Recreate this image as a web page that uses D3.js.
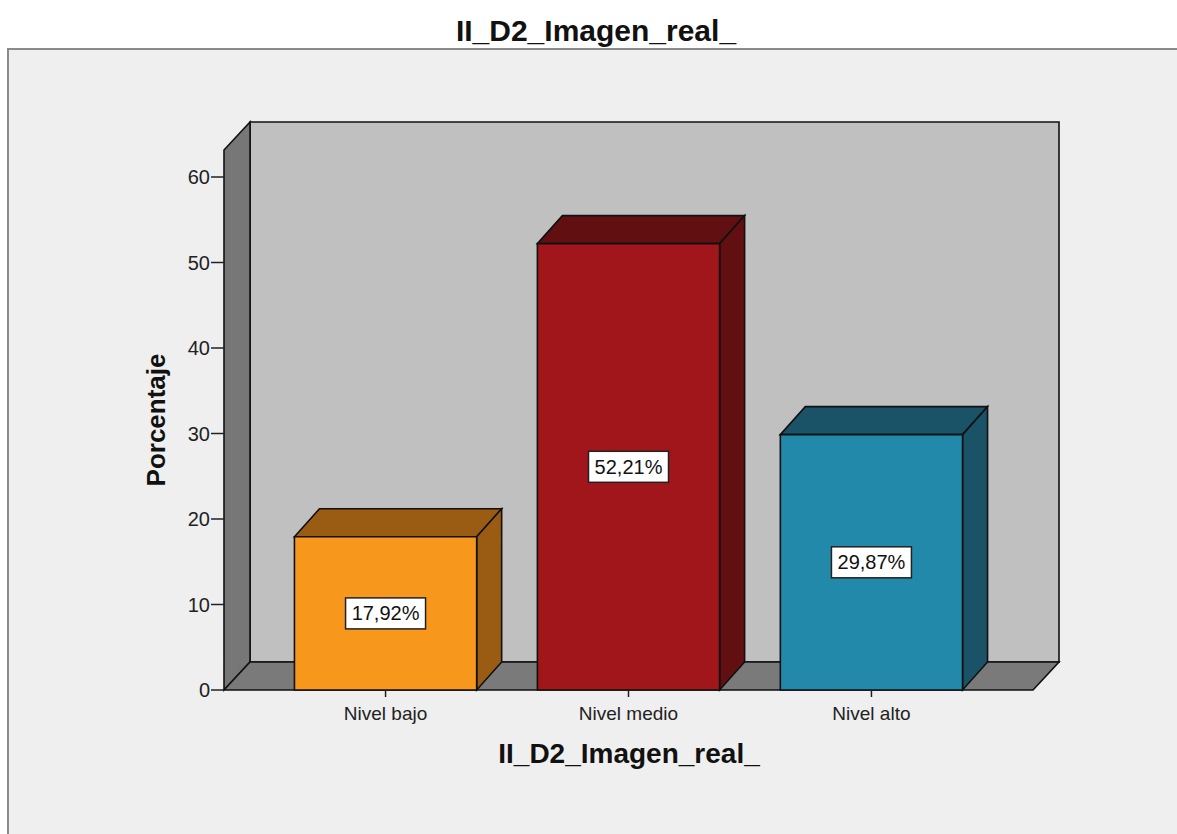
<!DOCTYPE html>
<html>
<head>
<meta charset="utf-8">
<script src="https://cdn.jsdelivr.net/npm/d3@7/dist/d3.min.js"></script>
<style>
  html, body { margin: 0; padding: 0; background: #ffffff; }
  svg { display: block; font-family: "Liberation Sans", Arial, sans-serif; }
</style>
</head>
<body>
<svg id="chart" width="1177" height="834"></svg>
<script>
// Distribution of II_D2_Imagen_real_ (percent of cases)
const categories = ["Nivel bajo", "Nivel medio", "Nivel alto"];
const percentages = [17.92, 52.21, 29.87];
const valueLabels = ["17,92%", "52,21%", "29,87%"];
const frontColors = ["#f7981d", "#a0161a", "#2389aa"];
const sideColors = ["#9a5b12", "#620f12", "#1a5368"];
const yTicks = [0, 10, 20, 30, 40, 50, 60];
const chartTitle = "II_D2_Imagen_real_";
const yTitle = "Porcentaje";

const svg = d3.select("#chart");

// outer panel
svg.append("rect")
  .attr("x", 8).attr("y", 49).attr("width", 1200).attr("height", 820)
  .attr("fill", "#efefef").attr("stroke", "#8a8a8a").attr("stroke-width", 2);

svg.append("text")
  .attr("x", 596).attr("y", 41)
  .attr("text-anchor", "middle")
  .attr("font-size", 30).attr("font-weight", "bold").attr("fill", "#111")
  .text(chartTitle);

// front plane of the 3D box
const plotLeft = 224, plotRight = 1033, plotBottom = 690;
const depthX = 26, depthY = -28;
const yMax = 63.16;

const y = d3.scaleLinear().domain([0, yMax]).range([plotBottom, plotBottom - yMax * 8.55]);
const x = d3.scaleBand().domain(categories).range([plotLeft, plotRight])
  .paddingInner(0.25).paddingOuter(0.29);

const yTop = y(yMax);

const g = svg.append("g");
const pts = a => a.map(p => p.join(",")).join(" ");
function poly(points, fill) {
  return g.append("polygon").attr("points", pts(points)).attr("fill", fill)
    .attr("stroke", "#111").attr("stroke-width", 1.6).attr("stroke-linejoin", "miter");
}

// back wall
poly([[plotLeft + depthX, yTop + depthY], [plotRight + depthX, yTop + depthY],
      [plotRight + depthX, plotBottom + depthY], [plotLeft + depthX, plotBottom + depthY]], "#c0c0c0");
// left wall
poly([[plotLeft, yTop], [plotLeft + depthX, yTop + depthY],
      [plotLeft + depthX, plotBottom + depthY], [plotLeft, plotBottom]], "#777777");
// floor
poly([[plotLeft, plotBottom], [plotLeft + depthX, plotBottom + depthY],
      [plotRight + depthX, plotBottom + depthY], [plotRight, plotBottom]], "#7a7a7a");

// y axis ticks and labels
const yAxis = svg.append("g");
yTicks.forEach(t => {
  yAxis.append("line")
    .attr("x1", plotLeft - 13).attr("x2", plotLeft)
    .attr("y1", y(t)).attr("y2", y(t))
    .attr("stroke", "#222").attr("stroke-width", 1.5);
  yAxis.append("text")
    .attr("x", plotLeft - 14).attr("y", y(t) + 7)
    .attr("text-anchor", "end").attr("font-size", 20).attr("fill", "#222")
    .text(t);
});

svg.append("text")
  .attr("transform", `translate(165, ${(plotBottom + yTop) / 2}) rotate(-90)`)
  .attr("text-anchor", "middle")
  .attr("font-size", 26).attr("font-weight", "bold").attr("fill", "#111")
  .text(yTitle);

// bars
const bw = x.bandwidth();
const bdx = 25, bdy = -28;
categories.forEach((c, i) => {
  const x0 = x(c), x1 = x0 + bw, yv = y(percentages[i]);
  // top face
  poly([[x0, yv], [x0 + bdx, yv + bdy], [x1 + bdx, yv + bdy], [x1, yv]], sideColors[i]);
  // side face
  poly([[x1, yv], [x1 + bdx, yv + bdy], [x1 + bdx, plotBottom + bdy], [x1, plotBottom]], sideColors[i]);
  // front face
  poly([[x0, yv], [x1, yv], [x1, plotBottom], [x0, plotBottom]], frontColors[i]);
});

// value labels
categories.forEach((c, i) => {
  const cx = x(c) + bw / 2;
  const cy = (y(percentages[i]) + plotBottom) / 2;
  const lg = svg.append("g");
  lg.append("rect")
    .attr("x", cx - 40).attr("y", cy - 15.5)
    .attr("width", 80).attr("height", 31)
    .attr("fill", "#ffffff").attr("stroke", "#222").attr("stroke-width", 1.5);
  lg.append("text")
    .attr("x", cx).attr("y", cy + 7)
    .attr("text-anchor", "middle").attr("font-size", 20).attr("fill", "#111")
    .text(valueLabels[i]);
});

// x axis ticks and category labels
categories.forEach(c => {
  const cx = x(c) + bw / 2;
  svg.append("line")
    .attr("x1", cx).attr("x2", cx).attr("y1", plotBottom).attr("y2", plotBottom + 7)
    .attr("stroke", "#222").attr("stroke-width", 1.5);
  svg.append("text")
    .attr("x", cx).attr("y", 720)
    .attr("text-anchor", "middle").attr("font-size", 19).attr("fill", "#222")
    .text(c);
});

svg.append("text")
  .attr("x", 629).attr("y", 763)
  .attr("text-anchor", "middle")
  .attr("font-size", 28).attr("font-weight", "bold").attr("fill", "#111")
  .text(chartTitle);
</script>
</body>
</html>
